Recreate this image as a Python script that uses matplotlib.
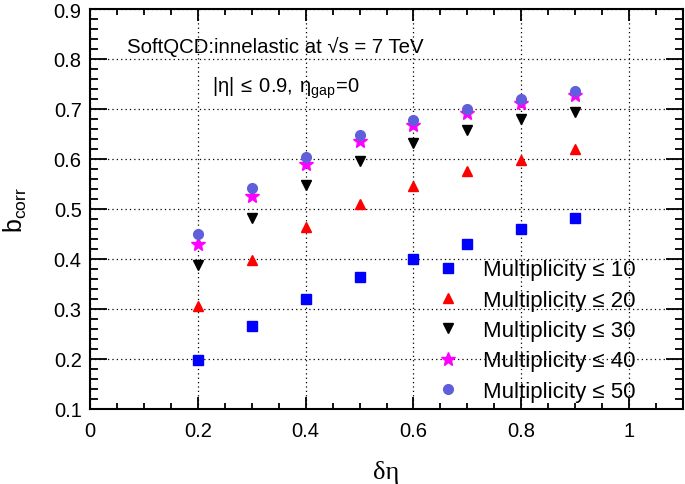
import matplotlib
matplotlib.use("Agg")
import matplotlib.pyplot as plt
from matplotlib.ticker import MultipleLocator

plt.rcParams['font.family'] = ['Liberation Sans', 'DejaVu Sans']
plt.rcParams['mathtext.fontset'] = 'custom'
plt.rcParams['mathtext.rm'] = 'Liberation Sans'
plt.rcParams['mathtext.it'] = 'Liberation Sans'
plt.rcParams['mathtext.bf'] = 'Liberation Sans:bold'

deta = [0.2, 0.3, 0.4, 0.5, 0.6, 0.7, 0.8, 0.9]
mult10 = [0.198, 0.266, 0.320, 0.364, 0.400, 0.431, 0.460, 0.483]
mult20 = [0.306, 0.398, 0.464, 0.510, 0.546, 0.576, 0.598, 0.620]
mult30 = [0.388, 0.482, 0.548, 0.596, 0.632, 0.658, 0.680, 0.695]
mult40 = [0.430, 0.527, 0.590, 0.637, 0.668, 0.692, 0.712, 0.728]
mult50 = [0.450, 0.542, 0.604, 0.648, 0.678, 0.700, 0.720, 0.736]
labels = ["Multiplicity ≤ 10", "Multiplicity ≤ 20", "Multiplicity ≤ 30",
          "Multiplicity ≤ 40", "Multiplicity ≤ 50"]

fig = plt.figure(figsize=(6.85, 4.85), dpi=100)
ax = fig.add_axes([90/685, 1-410/485, (683-90)/685, 400/485])

ax.plot(deta, mult10, ls='none', marker='s', ms=6.5, color='#0000ff', label=labels[0])
ax.plot(deta, mult20, ls='none', marker='^', ms=7.5, color='#ff0000', label=labels[1])
ax.plot(deta, mult30, ls='none', marker='v', ms=7.5, color='#000000', label=labels[2])
ax.plot(deta, mult40, ls='none', marker='*', ms=10, color='#ff00ff', label=labels[3])
ax.plot(deta, mult50, ls='none', marker='o', ms=7, color='#5f5fdc', label=labels[4])

ax.set_xlim(0, 1.1)
ax.set_ylim(0.1, 0.9)
ax.xaxis.set_major_locator(MultipleLocator(0.2))
ax.xaxis.set_minor_locator(MultipleLocator(0.05))
ax.yaxis.set_major_locator(MultipleLocator(0.1))
ax.yaxis.set_minor_locator(MultipleLocator(0.02))
ax.set_xticks([0, 0.2, 0.4, 0.6, 0.8, 1.0])
ax.set_xticklabels(['0', '0.2', '0.4', '0.6', '0.8', '1'])

ax.tick_params(which='both', direction='in', top=True, right=True, width=1.3, labelsize=14.5)
ax.tick_params(axis='x', which='major', length=8.6, pad=9)
ax.tick_params(axis='x', which='minor', length=4.3)
ax.tick_params(axis='y', which='major', length=12, pad=6)
ax.tick_params(axis='y', which='minor', length=6)
for s in ax.spines.values():
    s.set_linewidth(1.5)

ax.grid(True, which='major', color='black', ls=(0, (1, 2.5)), lw=0.9)

ax.set_xlabel('δη', family=['Liberation Serif', 'DejaVu Serif'], fontsize=19, labelpad=14)
ax.set_ylabel(r'b$_{\mathrm{corr}}$', fontsize=18, labelpad=18)

ax.text(0.0685, 0.814, 'SoftQCD:innelastic at √s = 7 TeV', fontsize=14.7, va='baseline', ha='left')
ax.text(0.226, 0.734, r'$\mathrm{|\eta|\:\leq\:0.9,\:\eta_{gap}\!=\!0}$', fontsize=14.5, va='baseline', ha='left')

ax.legend(loc='upper left', bbox_to_anchor=((430 - 90)/593, (410 - 256)/400), frameon=False,
          fontsize=16, handlelength=1.2, handletextpad=1.0, labelspacing=0.42,
          borderaxespad=0, borderpad=0.2)

fig.savefig('out.png', dpi=100)
